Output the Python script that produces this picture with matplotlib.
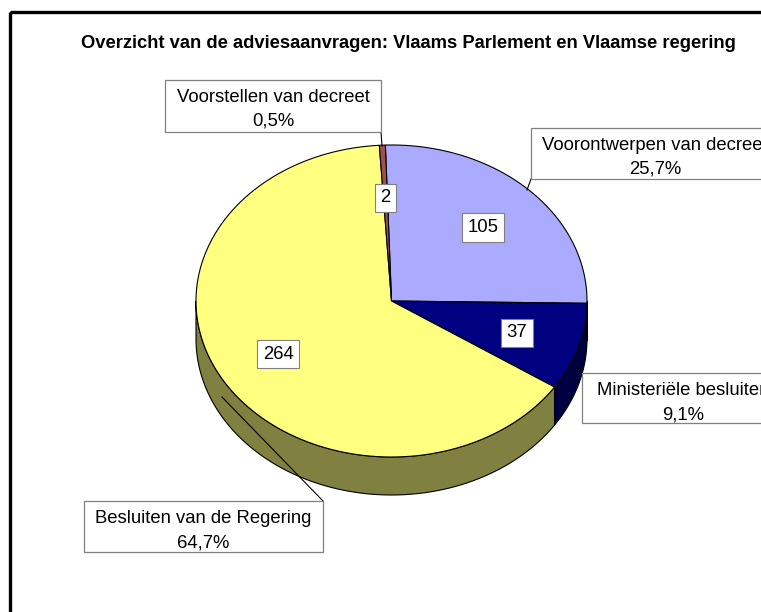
import numpy as np
import matplotlib
matplotlib.use('Agg')
import matplotlib.pyplot as plt
from matplotlib.patches import Rectangle

plt.rcParams['font.family'] = ['Liberation Sans', 'DejaVu Sans']

# data
title = 'Overzicht van de adviesaanvragen: Vlaams Parlement en Vlaamse regering'
categories = ['Voorontwerpen van decreet', 'Ministeriële besluiten',
              'Besluiten van de Regering', 'Voorstellen van decreet']
counts = [105, 37, 264, 2]
top_colors = ['#AAAAFF', '#000080', '#FFFF80', '#A0504F']
side_colors = ['#55557F', '#000040', '#808040', '#502828']

# pie geometry (pixels)
cx, cy = 391.5, 301.0
rx, ry = 195.5, 156.0
depth = 38.0
start = -1.8
label_r = 0.67

# category label boxes: x0, y0, width, height, leader line
label_boxes = [
    ((531, 128, 248, 51), [(531, 179), (527, 190)]),
    ((582, 373, 202, 50), [(582, 373), (577, 366)]),
    ((84, 501, 239, 51), [(323, 501), (222, 397)]),
    ((165, 80, 216, 52), [(381, 132), (382, 146)]),
]


def arc(a0, a1, dz=0.0, n=120):
    t = np.radians(np.linspace(a0, a1, n))
    return cx + rx * np.sin(t), cy - ry * np.cos(t) + dz


fig = plt.figure(figsize=(7.61, 6.12), dpi=100)
ax = fig.add_axes([0, 0, 1, 1])
ax.set_xlim(0, 761)
ax.set_ylim(612, 0)
ax.axis('off')

# outer frame
ax.add_patch(Rectangle((10, 12), 900, 800, fill=False, edgecolor='black',
                       linewidth=2.4, zorder=1))

total = float(sum(counts))
angles = np.concatenate([[0], np.cumsum(counts) / total * 360.0]) + start

# sides (front half only)
for i in range(len(counts)):
    s0, s1 = max(angles[i], 90), min(angles[i + 1], 270)
    if s0 >= s1:
        continue
    xt, yt = arc(s0, s1)
    xb, yb = arc(s1, s0, depth)
    ax.fill(np.r_[xt, xb], np.r_[yt, yb], facecolor=side_colors[i],
            edgecolor='black', linewidth=0.8, zorder=2)

# top face
for i in range(len(counts)):
    xa, ya = arc(angles[i], angles[i + 1])
    ax.fill(np.r_[cx, xa, cx], np.r_[cy, ya, cy], facecolor=top_colors[i],
            edgecolor='black', linewidth=0.8, zorder=3)

# value labels
for i, c in enumerate(counts):
    mid = np.radians((angles[i] + angles[i + 1]) / 2)
    x = cx + label_r * rx * np.sin(mid)
    y = cy - label_r * ry * np.cos(mid)
    ax.text(x, y + 1, str(c), ha='center', va='center', fontsize=13.3,
            zorder=6, bbox=dict(boxstyle='square,pad=0.3', facecolor='white',
                                edgecolor='#808080', linewidth=0.8))

# category labels
for i, ((x0, y0, w, h), leader) in enumerate(label_boxes):
    lx, ly = zip(*leader)
    ax.plot(lx, ly, color='black', linewidth=0.8, zorder=4)
    ax.add_patch(Rectangle((x0, y0), w, h, facecolor='white',
                           edgecolor='#808080', linewidth=0.9, zorder=5))
    pct = '{:.1f}%'.format(100 * counts[i] / total).replace('.', ',')
    ax.text(x0 + w / 2, y0 + 22, categories[i], ha='center', va='baseline',
            fontsize=13.3, zorder=6)
    ax.text(x0 + w / 2, y0 + 46, pct, ha='center', va='baseline',
            fontsize=13.3, zorder=6)

ax.text(408, 48, title, ha='center', va='baseline', fontsize=13.2,
        fontweight='bold', zorder=6)

fig.savefig('out.png', dpi=100)
